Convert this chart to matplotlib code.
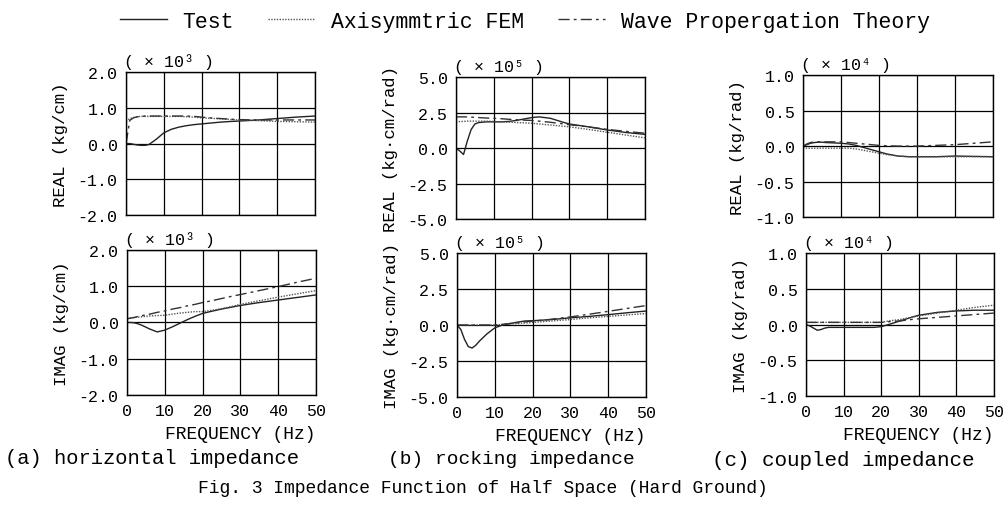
import matplotlib
matplotlib.use("Agg")
import matplotlib.pyplot as plt
from matplotlib.lines import Line2D

plt.rcParams['font.family'] = ['Liberation Mono', 'DejaVu Sans Mono']

freq = [0, 1, 2, 3, 4, 5, 6, 8, 10, 12, 14, 16, 18, 20, 22, 25, 28, 30, 35, 40, 45, 50]

# (a) horizontal impedance, x 10^3 kg/cm
a_real_test = [0, 0, -0.02, -0.04, -0.05, -0.05, -0.03, 0.12, 0.3, 0.4, 0.46, 0.5, 0.53, 0.55, 0.57, 0.6, 0.62, 0.63, 0.66, 0.7, 0.74, 0.77]
a_real_fem = [0.62, 0.7, 0.73, 0.75, 0.76, 0.76, 0.76, 0.76, 0.76, 0.76, 0.76, 0.75, 0.74, 0.72, 0.71, 0.69, 0.67, 0.66, 0.64, 0.62, 0.61, 0.6]
a_real_wave = [0.0, 0.65, 0.72, 0.75, 0.76, 0.77, 0.77, 0.77, 0.77, 0.77, 0.77, 0.77, 0.76, 0.74, 0.72, 0.7, 0.68, 0.67, 0.66, 0.66, 0.66, 0.66]
a_imag_test = [0, 0, -0.01, -0.04, -0.08, -0.13, -0.18, -0.26, -0.21, -0.12, -0.02, 0.08, 0.17, 0.25, 0.3, 0.37, 0.43, 0.47, 0.55, 0.62, 0.69, 0.76]
a_imag_fem = [0.12, 0.13, 0.14, 0.15, 0.16, 0.17, 0.18, 0.19, 0.2, 0.23, 0.26, 0.28, 0.3, 0.3, 0.33, 0.38, 0.45, 0.5, 0.6, 0.7, 0.79, 0.88]
a_imag_wave = [0.1, 0.12, 0.14, 0.17, 0.19, 0.21, 0.23, 0.28, 0.32, 0.37, 0.41, 0.46, 0.5, 0.55, 0.59, 0.66, 0.73, 0.77, 0.88, 0.99, 1.11, 1.22]

# (b) rocking impedance, x 10^5 kg.cm/rad
b_real_test = [0, -0.2, -0.45, 0.5, 1.3, 1.7, 1.8, 1.85, 1.85, 1.85, 1.88, 1.95, 2.05, 2.15, 2.2, 2.1, 1.85, 1.7, 1.5, 1.28, 1.1, 0.97]
b_real_fem = [1.85, 1.87, 1.88, 1.9, 1.9, 1.9, 1.9, 1.9, 1.88, 1.85, 1.83, 1.8, 1.78, 1.75, 1.7, 1.63, 1.55, 1.5, 1.32, 1.12, 0.92, 0.72]
b_real_wave = [2.2, 2.2, 2.2, 2.2, 2.18, 2.17, 2.15, 2.12, 2.1, 2.07, 2.03, 2.0, 1.97, 1.95, 1.9, 1.82, 1.72, 1.65, 1.5, 1.32, 1.18, 1.05]
b_imag_test = [0, -0.3, -1.0, -1.5, -1.6, -1.4, -1.1, -0.6, -0.2, 0.0, 0.1, 0.2, 0.28, 0.3, 0.33, 0.38, 0.45, 0.5, 0.6, 0.72, 0.85, 0.97]
b_imag_fem = [0, 0, 0, 0, 0, 0, 0, 0, 0, 0.03, 0.07, 0.1, 0.14, 0.18, 0.22, 0.28, 0.34, 0.38, 0.5, 0.6, 0.7, 0.8]
b_imag_wave = [0, 0, 0, 0, 0, 0, 0, 0, 0, 0.05, 0.1, 0.15, 0.22, 0.27, 0.32, 0.4, 0.5, 0.56, 0.75, 0.95, 1.15, 1.35]

# (c) coupled impedance, x 10^4 kg/rad
c_real_test = [0, 0.02, 0.04, 0.05, 0.055, 0.055, 0.05, 0.045, 0.04, 0.03, 0.01, -0.02, -0.05, -0.08, -0.11, -0.14, -0.15, -0.15, -0.15, -0.14, -0.145, -0.15]
c_real_fem = [-0.02, -0.03, -0.03, -0.03, -0.03, -0.03, -0.03, -0.03, -0.03, -0.03, -0.04, -0.06, -0.08, -0.1, -0.12, -0.14, -0.15, -0.15, -0.15, -0.15, -0.15, -0.15]
c_real_wave = [0.0, 0.03, 0.05, 0.06, 0.06, 0.06, 0.06, 0.06, 0.06, 0.05, 0.04, 0.03, 0.02, 0.01, 0.005, 0.0, 0.0, 0.0, 0.01, 0.02, 0.04, 0.06]
c_imag_test = [0.0, -0.02, -0.05, -0.08, -0.07, -0.05, -0.04, -0.04, -0.04, -0.04, -0.04, -0.04, -0.04, -0.03, 0.0, 0.05, 0.1, 0.13, 0.17, 0.19, 0.2, 0.2]
c_imag_fem = [0.03, 0.03, 0.03, 0.03, 0.03, 0.03, 0.03, 0.03, 0.03, 0.03, 0.03, 0.03, 0.03, 0.03, 0.05, 0.07, 0.1, 0.12, 0.16, 0.2, 0.24, 0.27]
c_imag_wave = [0.03, 0.03, 0.03, 0.03, 0.03, 0.03, 0.03, 0.03, 0.03, 0.03, 0.03, 0.03, 0.03, 0.03, 0.04, 0.05, 0.07, 0.08, 0.1, 0.12, 0.14, 0.16]

a_yticks = [-2.0, -1.0, 0.0, 1.0, 2.0]
b_yticks = [-5.0, -2.5, 0.0, 2.5, 5.0]
c_yticks = [-1.0, -0.5, 0.0, 0.5, 1.0]
xticks = [0, 10, 20, 30, 40, 50]

panels = [
    # (position, series, yticks, ylabel, multiplier)
    ([0.1254, 0.573, 0.188, 0.2826], (a_real_test, a_real_fem, a_real_wave), a_yticks, "REAL (kg/cm)", "( × 10³ )"),
    ([0.1264, 0.2174, 0.188, 0.2866], (a_imag_test, a_imag_fem, a_imag_wave), a_yticks, "IMAG (kg/cm)", "( × 10³ )"),
    ([0.4537, 0.565, 0.188, 0.2806], (b_real_test, b_real_fem, b_real_wave), b_yticks, "REAL (kg·cm/rad)", "( × 10⁵ )"),
    ([0.4547, 0.2134, 0.188, 0.2846], (b_imag_test, b_imag_fem, b_imag_wave), b_yticks, "IMAG (kg·cm/rad)", "( × 10⁵ )"),
    ([0.799, 0.569, 0.189, 0.2806], (c_real_test, c_real_fem, c_real_wave), c_yticks, "REAL (kg/rad)", "( × 10⁴ )"),
    ([0.802, 0.2154, 0.187, 0.2826], (c_imag_test, c_imag_fem, c_imag_wave), c_yticks, "IMAG (kg/rad)", "( × 10⁴ )"),
]

fig = plt.figure(figsize=(10.05, 5.06), dpi=100)

styles = [dict(ls='-', color='#222222', lw=1.0),
          dict(ls=(0, (1, 1)), color='#555555', lw=1.0),
          dict(ls=(0, (8, 3, 2, 3)), color='#333333', lw=1.0)]

for i, (pos, series, yt, ylab, mult) in enumerate(panels):
    ax = fig.add_axes(pos)
    for s, st in zip(series, styles):
        ax.plot(freq, s, **st)
    ax.set_xlim(0, 50)
    ax.set_ylim(yt[0], yt[-1])
    ax.set_yticks(yt)
    ax.set_yticklabels([f"{v:.1f}" for v in yt])
    ax.set_xticks(xticks)
    ax.grid(True, color='black', lw=0.9)
    ax.tick_params(length=0, labelsize=12, pad=6)
    for sp in ax.spines.values():
        sp.set_color('black')
        sp.set_linewidth(1.0)
    ax.set_ylabel(ylab, fontsize=12.5, labelpad=7)
    ax.text(-0.01, 1.02, mult, transform=ax.transAxes, fontsize=12, ha='left', va='bottom')
    if i % 2 == 0:
        ax.set_xticklabels([])
    else:
        ax.set_xlabel("FREQUENCY (Hz)", fontsize=13, labelpad=5, loc='right')

fig.text(0.005, 0.083, "(a) horizontal impedance", fontsize=14.8, ha='left')
fig.text(0.386, 0.083, "(b) rocking impedance", fontsize=14, ha='left')
fig.text(0.708, 0.079, "(c) coupled impedance", fontsize=15, ha='left')
fig.text(0.48, 0.025, "Fig. 3 Impedance Function of Half Space (Hard Ground)", fontsize=13, ha='center')

handles = [Line2D([], [], **st) for st in styles]
fig.legend(handles, ["Test", "Axisymmtric FEM", "Wave Propergation Theory"],
           loc='upper center', bbox_to_anchor=(0.522, 1.015), ncol=3, frameon=False,
           fontsize=15.5, handlelength=2.2, handletextpad=0.7, columnspacing=1.6)

fig.savefig("out.png", dpi=100)
